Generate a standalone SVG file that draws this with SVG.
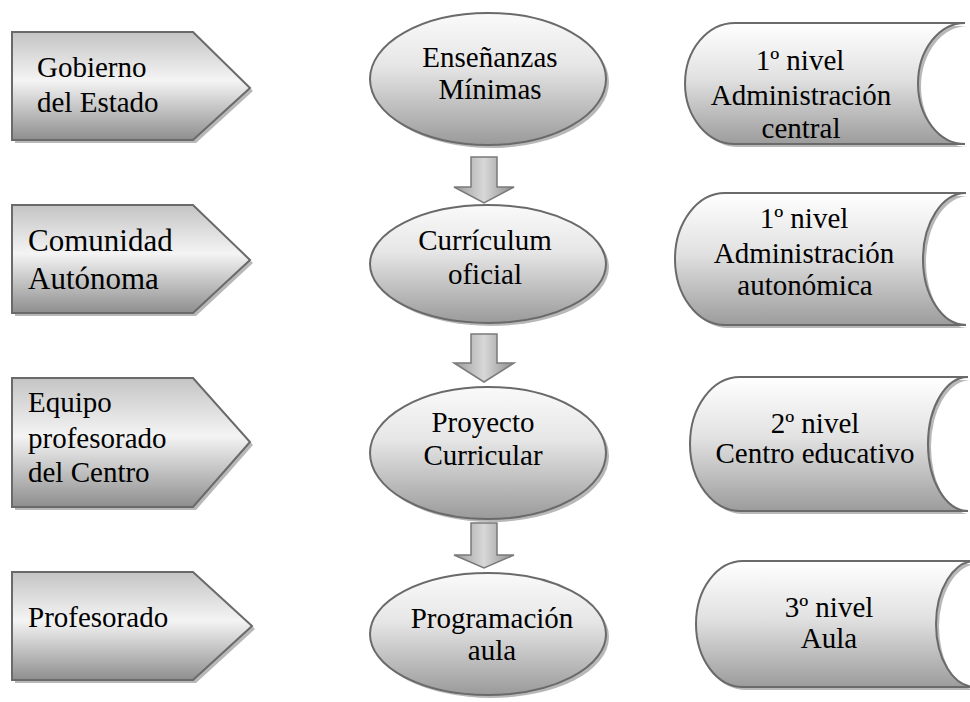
<svg xmlns="http://www.w3.org/2000/svg" width="970" height="702" viewBox="0 0 970 702">
<defs>
<linearGradient id="gPent" x1="0" y1="0" x2="0" y2="1">
<stop offset="0" stop-color="#c4c4c4"/>
<stop offset="0.45" stop-color="#f4f4f4"/>
<stop offset="1" stop-color="#8e8e8e"/>
</linearGradient>
<linearGradient id="gEll" x1="0" y1="0" x2="0" y2="1">
<stop offset="0" stop-color="#fafafa"/>
<stop offset="0.4" stop-color="#e6e6e6"/>
<stop offset="1" stop-color="#9a9a9a"/>
</linearGradient>
<linearGradient id="gStore" x1="0" y1="0" x2="0" y2="1">
<stop offset="0" stop-color="#ffffff"/>
<stop offset="0.45" stop-color="#e2e2e2"/>
<stop offset="1" stop-color="#9c9c9c"/>
</linearGradient>
<linearGradient id="gArrow" x1="0" y1="0" x2="1" y2="0">
<stop offset="0" stop-color="#9a9a9a"/>
<stop offset="0.5" stop-color="#d8d8d8"/>
<stop offset="1" stop-color="#8c8c8c"/>
</linearGradient>
</defs>
<style>
.shape{stroke:#6a6a6a;stroke-width:2}
.pent{fill:url(#gPent)}
.ell{fill:url(#gEll)}
.store{fill:url(#gStore)}
.arrow{fill:url(#gArrow);stroke:#7a7a7a;stroke-width:1.5}
.shadow{fill:#b8b8b8;stroke:none}
.t{font-family:'Liberation Serif','Times New Roman',serif;font-size:29px;fill:#000}
.c{text-anchor:middle}
</style>
<rect width="970" height="702" fill="#ffffff"/>

<g id="connectors">
<path class="arrow" d="M471,157 H497 V187 H514 L484,203 L454,187 H471 Z"/>
<path class="arrow" d="M471,334 H497 V363 H514 L484,382 L454,363 H471 Z"/>
<path class="arrow" d="M471,523 H497 V555 H514 L484,568 L454,555 H471 Z"/>
</g>

<g id="gobierno">
<path class="shadow" d="M15,35 H196 L253,91 L196,143 H15 Z"/>
<path class="shape pent" d="M12,32 H193 L250,88 L193,140 H12 Z"/>
<text class="t" x="37" y="77">Gobierno</text>
<text class="t" x="37" y="112">del Estado</text>
</g>
<g id="comunidad">
<path class="shadow" d="M15,208 H196 L253,263 L196,316 H15 Z"/>
<path class="shape pent" d="M12,205 H193 L250,260 L193,313 H12 Z"/>
<text class="t" x="28" y="251" style="font-size:31px">Comunidad</text>
<text class="t" x="28" y="289" style="font-size:31px">Autónoma</text>
</g>
<g id="equipo">
<path class="shadow" d="M15,381 H196 L253,445 L196,510 H15 Z"/>
<path class="shape pent" d="M12,378 H193 L250,442 L193,507 H12 Z"/>
<text class="t" x="28" y="412">Equipo</text>
<text class="t" x="28" y="448">profesorado</text>
<text class="t" x="28" y="482">del Centro</text>
</g>
<g id="profesorado">
<path class="shadow" d="M15,575 H196 L255,629 L196,683 H15 Z"/>
<path class="shape pent" d="M12,572 H193 L252,626 L193,680 H12 Z"/>
<text class="t" x="28" y="627">Profesorado</text>
</g>

<g id="ensenanzas">
<ellipse class="shadow" cx="491" cy="82" rx="118" ry="66"/>
<ellipse class="shape ell" cx="488" cy="79" rx="118" ry="66"/>
<text class="t c" x="490" y="67">Enseñanzas</text>
<text class="t c" x="490" y="99">Mínimas</text>
</g>
<g id="curriculum">
<ellipse class="shadow" cx="491" cy="267" rx="118" ry="59"/>
<ellipse class="shape ell" cx="488" cy="264" rx="118" ry="59"/>
<text class="t c" x="485" y="250">Currículum</text>
<text class="t c" x="485" y="284">oficial</text>
</g>
<g id="proyecto">
<ellipse class="shadow" cx="491" cy="456" rx="118" ry="66"/>
<ellipse class="shape ell" cx="488" cy="453" rx="118" ry="66"/>
<text class="t c" x="483" y="432">Proyecto</text>
<text class="t c" x="483" y="465">Curricular</text>
</g>
<g id="programacion">
<ellipse class="shadow" cx="491" cy="637" rx="118" ry="61"/>
<ellipse class="shape ell" cx="488" cy="634" rx="118" ry="61"/>
<text class="t c" x="492" y="628">Programación</text>
<text class="t c" x="492" y="660">aula</text>
</g>

<g id="nivel1central">
<path class="shadow" d="M738,26 H968 A47,60.5 0 0 0 968,147 H738 A50,60.5 0 0 1 738,26 Z"/>
<path class="shape store" d="M735,23 H965 A47,60.5 0 0 0 965,144 H735 A50,60.5 0 0 1 735,23 Z"/>
<text class="t c" x="800" y="70">1º nivel</text>
<text class="t c" x="801" y="105">Administración</text>
<text class="t c" x="801" y="138">central</text>
</g>
<g id="nivel1autonomica">
<path class="shadow" d="M728,196 H969 A43,66 0 0 0 969,328 H728 A50,66 0 0 1 728,196 Z"/>
<path class="shape store" d="M725,193 H966 A43,66 0 0 0 966,325 H725 A50,66 0 0 1 725,193 Z"/>
<text class="t c" x="804" y="228">1º nivel</text>
<text class="t c" x="804" y="263">Administración</text>
<text class="t c" x="805" y="295">autonómica</text>
</g>
<g id="nivel2">
<path class="shadow" d="M743,380 H971 A40,67 0 0 0 971,514 H743 A50,67 0 0 1 743,380 Z"/>
<path class="shape store" d="M740,377 H968 A40,67 0 0 0 968,511 H740 A50,67 0 0 1 740,377 Z"/>
<text class="t c" x="815" y="433">2º nivel</text>
<text class="t c" x="815" y="463">Centro educativo</text>
</g>
<g id="nivel3">
<path class="shadow" d="M746,564 H978 A39,63 0 0 0 978,690 H746 A50,63 0 0 1 746,564 Z"/>
<path class="shape store" d="M743,561 H975 A39,63 0 0 0 975,687 H743 A47,63 0 0 1 743,561 Z"/>
<text class="t c" x="829" y="617">3º nivel</text>
<text class="t c" x="829" y="648">Aula</text>
</g>
</svg>
